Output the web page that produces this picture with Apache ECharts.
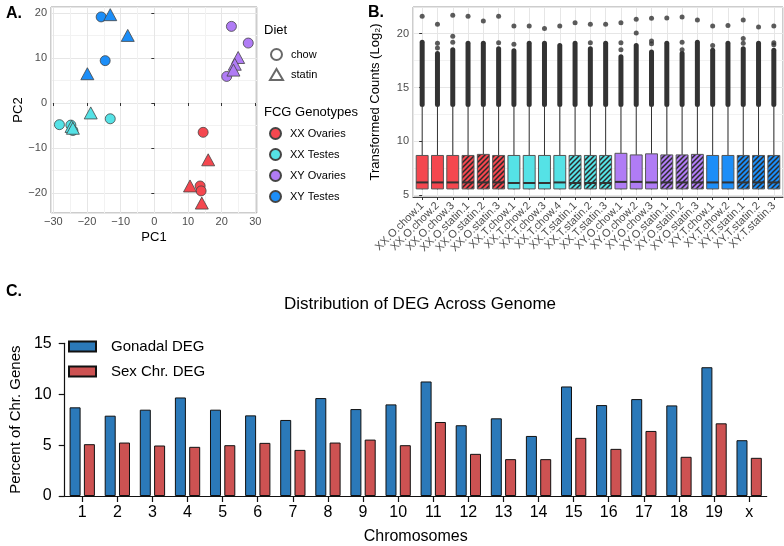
<!DOCTYPE html>
<html><head><meta charset="utf-8">
<script src="https://cdn.jsdelivr.net/npm/echarts@6/dist/echarts.min.js"></script>
<style>html,body{margin:0;padding:0;background:#fff}#c{width:784px;height:546px}</style>
</head><body><div id="c"></div>
<script>
// ---------- Panel A: PCA  [PC1, PC2, diet] ----------
const genotypes = ['XX Ovaries', 'XX Testes', 'XY Ovaries', 'XY Testes'];
const genotypeColors = ['#F4474F', '#55E2E6', '#B07CF5', '#1C8EF8'];
const pcaXXOvaries = [[14.5,-6.5,'chow'],[13.6,-18.4,'chow'],[13.9,-19.5,'chow'],[16.0,-12.6,'statin'],[10.6,-18.4,'statin'],[14.1,-22.2,'statin']];
const pcaXXTestes = [[-28.2,-4.8,'chow'],[-24.8,-4.9,'chow'],[-24.2,-6.1,'chow'],[-13.1,-3.5,'chow'],[-24.6,-5.2,'statin'],[-24.2,-5.6,'statin'],[-18.9,-2.2,'statin']];
const pcaXYOvaries = [[22.9,17.0,'chow'],[27.9,13.3,'chow'],[21.5,5.9,'chow'],[24.9,10.1,'statin'],[23.9,8.6,'statin'],[23.5,7.3,'statin']];
const pcaXYTestes = [[-15.8,19.1,'chow'],[-14.6,9.4,'chow'],[-13.1,19.6,'statin'],[-7.9,15.0,'statin'],[-19.9,6.5,'statin']];
const pcaData = [pcaXXOvaries, pcaXXTestes, pcaXYOvaries, pcaXYTestes];

// ---------- Panel B: boxplots ----------
const samples = ['XX.O.chow.1','XX.O.chow.2','XX.O.chow.3','XX.O.statin.1','XX.O.statin.2','XX.O.statin.3',
  'XX.T.chow.1','XX.T.chow.2','XX.T.chow.3','XX.T.chow.4','XX.T.statin.1','XX.T.statin.2','XX.T.statin.3',
  'XY.O.chow.1','XY.O.chow.2','XY.O.chow.3','XY.O.statin.1','XY.O.statin.2','XY.O.statin.3',
  'XY.T.chow.1','XY.T.chow.2','XY.T.statin.1','XY.T.statin.2','XY.T.statin.3'];
const whiskerLow = [5.55,5.55,5.55,5.55,5.55,5.55,5.55,5.55,5.55,5.55,5.55,5.55,5.55,5.55,5.55,5.55,5.55,5.55,5.55,5.55,5.55,5.55,5.55,5.55];
const boxQ1 = [5.6,5.6,5.6,5.6,5.6,5.6,5.6,5.6,5.6,5.6,5.6,5.6,5.6,5.6,5.6,5.6,5.6,5.6,5.6,5.6,5.6,5.6,5.6,5.6];
const boxMedian = [6.2,6.2,6.2,6.2,6.2,6.2,6.15,6.15,6.15,6.2,6.15,6.15,6.15,6.25,6.25,6.2,6.2,6.2,6.2,6.2,6.2,6.2,6.2,6.2];
const boxQ3 = [8.7,8.7,8.7,8.7,8.8,8.7,8.7,8.7,8.7,8.7,8.7,8.7,8.7,8.9,8.75,8.85,8.75,8.75,8.8,8.7,8.7,8.7,8.7,8.7];
const whiskerHigh = [13.2,13.2,13.2,13.2,13.2,13.2,13.2,13.2,13.2,13.2,13.2,13.2,13.2,13.2,13.2,13.2,13.2,13.2,13.2,13.2,13.2,13.2,13.2,13.2];
const denseOutlierTop = [19.2,18.15,18.5,19.1,19.1,18.6,18.4,19.1,19.1,18.9,19.1,18.6,19.1,17.85,18.9,18.3,19.1,18.15,19.2,18.45,19.1,18.6,19.1,18.45];
const topOutlier = [21.6,20.86,21.69,21.6,21.17,21.6,20.7,20.7,20.46,20.7,21.01,20.86,20.86,21.01,21.32,21.41,21.44,21.54,21.26,20.7,20.74,21.26,20.61,20.7];
const extraOutliers = [[],[19.1,18.65],[19.75,19.2],[],[],[19.15],[19.0],[],[],[],[],[19.15],[],[19.15,18.5],[20.05],[19.3,19.05],[],[19.2,18.5],[],[18.9],[],[19.55,19.1],[],[19.15,18.95]];

// ---------- Panel C: DEG distribution ----------
const chromosomes = ['1','2','3','4','5','6','7','8','9','10','11','12','13','14','15','16','17','18','19','x'];
const gonadalDEG = [8.71,7.89,8.48,9.68,8.48,7.92,7.47,9.62,8.54,9.0,11.25,6.95,7.63,5.90,10.76,8.93,9.52,8.90,12.65,5.48];
const sexChrDEG = [5.09,5.25,4.96,4.83,4.99,5.22,4.53,5.25,5.54,4.99,7.27,4.14,3.62,3.62,5.71,4.63,6.39,3.85,7.14,3.75];

const FONT = '"Liberation Sans", Arial, Helvetica, sans-serif';
const TICKC = '#4d4d4d';
const minusFmt = v => String(v).replace('-', '\u2212');

function hatch(color) {
  const c = document.createElement('canvas'); c.width = 5; c.height = 5;
  const g = c.getContext('2d');
  g.fillStyle = color; g.fillRect(0, 0, 5, 5);
  g.strokeStyle = '#2a2a2a'; g.lineWidth = 1.5;
  g.beginPath();
  g.moveTo(-1, 6); g.lineTo(6, -1);
  g.moveTo(-1, 1); g.lineTo(1, -1);
  g.moveTo(4, 6); g.lineTo(6, 4);
  g.stroke();
  return { image: c, repeat: 'repeat' };
}
function sampleColor(name) {
  const key = (name.slice(0, 2) === 'XX' ? 'XX ' : 'XY ') + (name[3] === 'O' ? 'Ovaries' : 'Testes');
  return genotypeColors[genotypes.indexOf(key)];
}
const sampleFills = samples.map(s => s.indexOf('statin') >= 0 ? hatch(sampleColor(s)) : sampleColor(s));

const boxData = samples.map((s, i) => [i, boxQ1[i], boxMedian[i], boxQ3[i], whiskerLow[i], whiskerHigh[i], denseOutlierTop[i]]);
const outlierData = [];
samples.forEach((s, i) => {
  outlierData.push([i, topOutlier[i]]);
  extraOutliers[i].forEach(v => outlierData.push([i, v]));
});

function renderBox(params, api) {
  const i = api.value(0);
  const pQ1 = api.coord([i, api.value(1)]);
  const pMed = api.coord([i, api.value(2)]);
  const pQ3 = api.coord([i, api.value(3)]);
  const pLo = api.coord([i, api.value(4)]);
  const pHi = api.coord([i, api.value(5)]);
  const pD = api.coord([i, api.value(6)]);
  const w = api.size([0.78, 0])[0];
  const x = pQ1[0];
  return { type: 'group', children: [
    { type: 'line', shape: { x1: x, y1: pQ3[1], x2: x, y2: pHi[1] }, style: { stroke: '#333', lineWidth: 1 } },
    { type: 'line', shape: { x1: x, y1: pQ1[1], x2: x, y2: pLo[1] }, style: { stroke: '#333', lineWidth: 1 } },
    { type: 'rect', shape: { x: x - w / 2, y: pQ3[1], width: w, height: pQ1[1] - pQ3[1] },
      style: { fill: sampleFills[params.dataIndex], stroke: '#555', lineWidth: 1 } },
    { type: 'line', shape: { x1: x - w / 2, y1: pMed[1], x2: x + w / 2, y2: pMed[1] }, style: { stroke: '#333', lineWidth: 2 } },
    { type: 'rect', shape: { x: x - 2.5, y: pD[1] - 2.5, width: 5, height: pHi[1] - pD[1] + 2.5, r: 2.5 }, style: { fill: '#333' } }
  ] };
}

const scatterSeries = genotypes.map((g, k) => ({
  name: g, type: 'scatter', xAxisIndex: 0, yAxisIndex: 0,
  itemStyle: { color: genotypeColors[k], borderColor: '#444', borderWidth: 0.8, opacity: 1 },
  data: pcaData[k].map(p => ({ value: [p[0], p[1]], symbol: p[2] === 'chow' ? 'circle' : 'triangle', symbolSize: p[2] === 'chow' ? 10 : [13, 12] }))
}));

const gridLine = { show: true, lineStyle: { color: '#e6e6e6', width: 1 } };
const minorLine = { show: true, lineStyle: { color: '#f2f2f2', width: 1 } };

const option = {
  animation: false,
  backgroundColor: '#fff',
  textStyle: { fontFamily: FONT },
  title: [
    { text: 'A.', left: 1, top: 1, textStyle: { fontSize: 16, fontWeight: 'bold', color: '#000', fontFamily: FONT } },
    { text: 'B.', left: 363, top: 0, textStyle: { fontSize: 16, fontWeight: 'bold', color: '#000', fontFamily: FONT } },
    { text: 'C.', left: 1, top: 279, textStyle: { fontSize: 16, fontWeight: 'bold', color: '#000', fontFamily: FONT } },
    { text: 'Distribution of DEG Across Genome', left: 415, textAlign: 'center', top: 291, textStyle: { fontSize: 17, fontWeight: 'normal', color: '#000', fontFamily: FONT } },
    { text: 'Diet', left: 264, top: 24, padding: 0, textStyle: { fontSize: 13, fontWeight: 'normal', color: '#000', fontFamily: FONT } },
    { text: 'FCG Genotypes', left: 264, top: 106, padding: 0, textStyle: { fontSize: 13, fontWeight: 'normal', color: '#000', fontFamily: FONT } }
  ],
  legend: [
    { data: [{ name: 'chow', icon: 'circle' }, { name: 'statin', icon: 'triangle' }], orient: 'vertical', left: 269, top: 48, padding: 0,
      itemWidth: 13, itemHeight: 11, itemGap: 7, selectedMode: false,
      textStyle: { fontSize: 11, color: '#000', lineHeight: 11, padding: [0, 0, 0, 3], fontFamily: FONT } },
    { data: genotypes.map(g => ({ name: g, icon: 'circle' })), orient: 'vertical', left: 269, top: 127, padding: 0,
      itemWidth: 13, itemHeight: 11, itemGap: 8, selectedMode: false,
      textStyle: { fontSize: 11, color: '#000', lineHeight: 11, padding: [0, 0, 0, 3], fontFamily: FONT } },
    { data: [{ name: 'Gonadal DEG', icon: 'rect' }, { name: 'Sex Chr. DEG', icon: 'rect' }], orient: 'vertical', left: 68, top: 339, padding: 0,
      itemWidth: 27, itemHeight: 10, itemGap: 10, selectedMode: false,
      textStyle: { fontSize: 15, color: '#000', lineHeight: 10, padding: [0, 0, 0, 10], fontFamily: FONT } }
  ],
  grid: [
    { left: 51, top: 7, width: 206, height: 206, show: true, borderColor: '#9a9a9a', borderWidth: 1, backgroundColor: 'transparent' },
    { left: 413, top: 7, width: 370, height: 190, show: true, borderColor: '#9a9a9a', borderWidth: 1, backgroundColor: 'transparent' },
    { left: 63.3, top: 343.3, width: 703.4, height: 153.4, show: false }
  ],
  xAxis: [
    { gridIndex: 0, type: 'value', min: -30.7, max: 30.5, minInterval: 10, maxInterval: 10,
      axisLine: { show: false }, axisTick: { show: true, length: 3, lineStyle: { color: '#333' } },
      axisLabel: { fontSize: 11, color: TICKC, margin: 3, showMinLabel: false, showMaxLabel: false, fontFamily: FONT, formatter: minusFmt },
      splitLine: gridLine, minorTick: { show: false, splitNumber: 2 }, minorSplitLine: minorLine,
      name: 'PC1', nameLocation: 'middle', nameGap: 18, nameTextStyle: { fontSize: 13, color: '#000', fontFamily: FONT } },
    { gridIndex: 1, type: 'value', min: -0.6, max: 23.6, minInterval: 1, maxInterval: 1,
      axisLine: { show: true, lineStyle: { color: '#444', width: 1 } }, axisTick: { show: true, length: 3, lineStyle: { color: '#333' } },
      axisLabel: { fontSize: 11, color: TICKC, margin: 7, rotate: 45, showMinLabel: false, showMaxLabel: false, fontFamily: FONT,
        formatter: v => (Math.abs(v - Math.round(v)) < 1e-6 && samples[Math.round(v)]) ? samples[Math.round(v)] : '' },
      splitLine: gridLine },
    { gridIndex: 2, type: 'category', data: chromosomes,
      axisLine: { show: true, lineStyle: { color: '#111', width: 1.2 } }, axisTick: { show: true, alignWithLabel: true, length: 6, lineStyle: { color: '#111', width: 1.2 } },
      axisLabel: { fontSize: 16, color: '#000', margin: 9, fontFamily: FONT },
      splitLine: { show: false },
      name: 'Chromosomes', nameLocation: 'middle', nameGap: 33, nameTextStyle: { fontSize: 16, color: '#000', fontFamily: FONT } }
  ],
  yAxis: [
    { gridIndex: 0, type: 'value', min: -24.4, max: 21.3, minInterval: 10, maxInterval: 10,
      axisLine: { show: false }, axisTick: { show: true, length: 3, lineStyle: { color: '#333' } },
      axisLabel: { fontSize: 11, color: TICKC, margin: 4, showMinLabel: false, showMaxLabel: false, fontFamily: FONT, formatter: minusFmt },
      splitLine: gridLine, minorTick: { show: false, splitNumber: 2 }, minorSplitLine: minorLine,
      name: 'PC2', nameLocation: 'middle', nameGap: 26, nameTextStyle: { fontSize: 13, color: '#000', fontFamily: FONT } },
    { gridIndex: 1, type: 'value', min: 4.85, max: 22.46, minInterval: 5, maxInterval: 5,
      axisLine: { show: false }, axisTick: { show: true, length: 3, lineStyle: { color: '#333' } },
      axisLabel: { fontSize: 11, color: TICKC, margin: 4, showMinLabel: false, showMaxLabel: false, fontFamily: FONT },
      splitLine: gridLine, minorTick: { show: false, splitNumber: 2 }, minorSplitLine: minorLine,
      name: 'Transformed Counts (Log₂)', nameLocation: 'middle', nameGap: 31, nameTextStyle: { fontSize: 13, color: '#000', fontFamily: FONT } },
    { gridIndex: 2, type: 'value', min: 0, max: 15, interval: 5,
      axisLine: { show: true, lineStyle: { color: '#111', width: 1.2 } }, axisTick: { show: true, length: 6, lineStyle: { color: '#111', width: 1.2 } },
      axisLabel: { fontSize: 16, color: '#000', margin: 13, fontFamily: FONT },
      splitLine: { show: false },
      name: 'Percent of Chr. Genes', nameLocation: 'middle', nameGap: 40, nameTextStyle: { fontSize: 15, color: '#000', fontFamily: FONT } }
  ],
  series: [
    { name: 'chow', type: 'scatter', xAxisIndex: 0, yAxisIndex: 0, data: [], itemStyle: { color: '#fff', borderColor: '#444', borderWidth: 1 } },
    { name: 'statin', type: 'scatter', xAxisIndex: 0, yAxisIndex: 0, data: [], itemStyle: { color: '#fff', borderColor: '#444', borderWidth: 1 } },
    ...scatterSeries,
    { type: 'custom', xAxisIndex: 1, yAxisIndex: 1, renderItem: renderBox, data: boxData, encode: { x: 0, y: [1, 2, 3, 4, 5, 6] } },
    { type: 'scatter', xAxisIndex: 1, yAxisIndex: 1, data: outlierData, symbolSize: 5, itemStyle: { color: '#333' }, clip: false },
    { name: 'Gonadal DEG', type: 'bar', xAxisIndex: 2, yAxisIndex: 2, data: gonadalDEG, barWidth: 11, barGap: '30%',
      itemStyle: { color: '#2B79B9', borderColor: '#111', borderWidth: 1 } },
    { name: 'Sex Chr. DEG', type: 'bar', xAxisIndex: 2, yAxisIndex: 2, data: sexChrDEG, barWidth: 11, barGap: '30%',
      itemStyle: { color: '#CD5252', borderColor: '#111', borderWidth: 1 } }
  ]
};
const chart = echarts.init(document.getElementById('c'), null, { renderer: 'canvas' });
chart.setOption(option);
</script></body></html>
